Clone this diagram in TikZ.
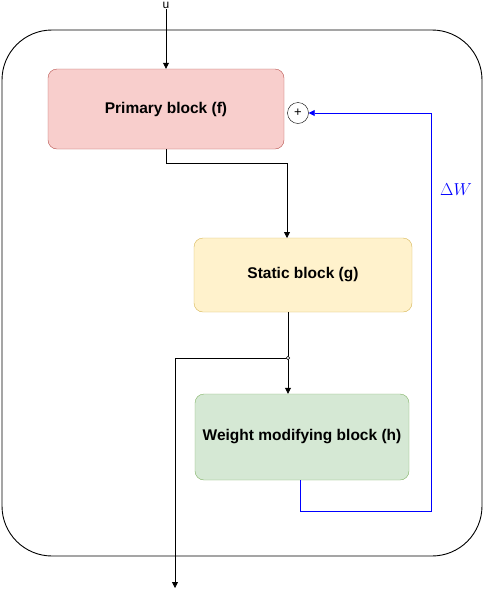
\documentclass[tikz,border=0pt]{standalone}
\usepackage{fontspec}
\setmainfont{Liberation Sans}
\usetikzlibrary{arrows.meta}
\definecolor{redfill}{HTML}{F8CECC}
\definecolor{redline}{HTML}{B85450}
\definecolor{yellowfill}{HTML}{FFF2CC}
\definecolor{yellowline}{HTML}{D6B656}
\definecolor{greenfill}{HTML}{D5E8D4}
\definecolor{greenline}{HTML}{82B366}
\tikzset{
  block/.style={rectangle, rounded corners=9pt, inner sep=0pt, font=\fontsize{15.5}{17}\selectfont\bfseries},
  arr/.style={-{Triangle[width=6pt,length=6pt]}, line width=0.8pt},
}
\begin{document}
\begin{tikzpicture}[x=1pt,y=-1pt]
    \useasboundingbox (0,0) rectangle (484,590);

    \draw[line width=0.9pt, rounded corners=50pt] (2,30) rectangle (482,556);

    \node[block, draw=redline, fill=redfill, minimum width=236pt, minimum height=80pt] (prim) at (166,109) {Primary block (f)};
    \node[block, draw=yellowline, fill=yellowfill, minimum width=218pt, minimum height=74pt] (stat) at (303,275) {Static block (g)};
    \node[block, draw=greenline, fill=greenfill, minimum width=214pt, minimum height=86pt] (wmod) at (302,437) {Weight modifying block (h)};

    \node[circle, draw, inner sep=0pt, minimum size=21pt, font=\fontsize{13}{14}\selectfont] (plus) at (298,113) {+};
    \node[font=\fontsize{12}{13}\selectfont, inner sep=0.5pt, anchor=north] (u) at (166,1.5) {u};
    \node[text=blue, font=\fontsize{17}{19}\selectfont] (dw) at (456,190) {$\Delta W$};

    \coordinate (split) at (288,358);
    \coordinate (out) at (175,588);
    \coordinate (fb) at (431,511);

    \draw[arr] (u) -- (prim.north);
    \draw[arr] (prim.south) |- (287,163) -- (287,238);
    \draw[line width=0.8pt] (288,312) -- (split);
    \draw[arr] (split) -- (wmod.north -| split);
    \draw[arr] (split) -| (out);
    \draw[fill=white, line width=0.5pt] (split) circle (1.8pt);

    \draw[blue, arr] (300,480) |- (fb) |- (plus.east);
\end{tikzpicture}
\end{document}
